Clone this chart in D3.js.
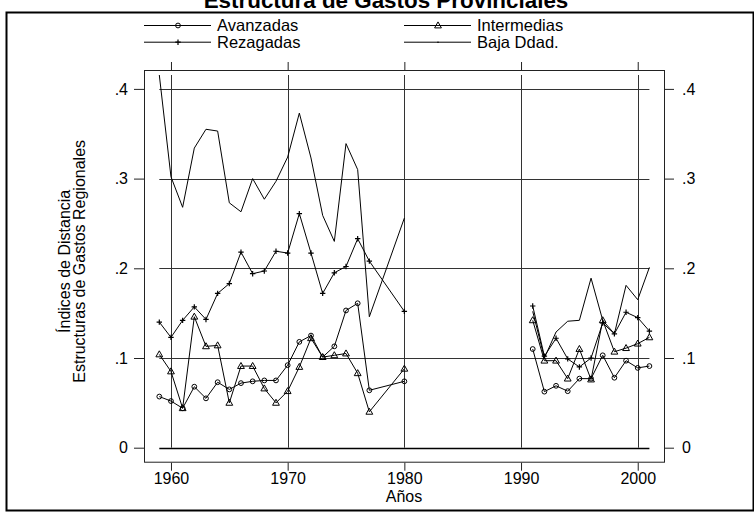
<!DOCTYPE html>
<html>
<head>
<meta charset="utf-8">
<script src="https://cdn.jsdelivr.net/npm/d3@7"></script>
<style>
  body { margin: 0; background: #fff; }
  svg { display: block; font-family: "Liberation Sans", Arial, sans-serif; }
</style>
</head>
<body>
<svg id="chart" width="754" height="512"></svg>
<script>
// values; two periods, 1978-79 and 1981-90 missing
const years1 = [1959, 1960, 1961, 1962, 1963, 1964, 1965, 1966, 1967, 1968,
  1969, 1970, 1971, 1972, 1973, 1974, 1975, 1976, 1977, 1980];
const years2 = [1991, 1992, 1993, 1994, 1995, 1996, 1997, 1998, 1999, 2000, 2001];

const avanzadas1 = [0.057, 0.052, 0.044, 0.068, 0.055, 0.073, 0.065, 0.072, 0.074, 0.075,
  0.075, 0.092, 0.118, 0.125, 0.101, 0.113, 0.153, 0.161, 0.064, 0.074];
const intermedias1 = [0.104, 0.085, 0.044, 0.146, 0.113, 0.114, 0.050, 0.091, 0.091, 0.066,
  0.050, 0.063, 0.090, 0.122, 0.101, 0.103, 0.105, 0.083, 0.040, 0.088];
const rezagadas1 = [0.140, 0.123, 0.142, 0.157, 0.143, 0.172, 0.183, 0.218, 0.194, 0.197,
  0.219, 0.217, 0.261, 0.217, 0.172, 0.195, 0.202, 0.233, 0.208, 0.152];
const baja1 = [0.4155, 0.302, 0.268, 0.334, 0.355, 0.353, 0.273, 0.263, 0.300, 0.277,
  0.297, 0.324, 0.373, 0.323, 0.259, 0.230, 0.339, 0.310, 0.146, 0.256];

const avanzadas2 = [0.110, 0.0625, 0.069, 0.063, 0.077, 0.077, 0.103, 0.078, 0.097, 0.089, 0.091];
const intermedias2 = [0.142, 0.097, 0.097, 0.077, 0.110, 0.076, 0.142, 0.107, 0.111, 0.116, 0.123];
const rezagadas2 = [0.158, 0.102, 0.122, 0.099, 0.090, 0.100, 0.139, 0.127, 0.151, 0.145, 0.130];
const baja2 = [0.152, 0.100, 0.129, 0.141, 0.142, 0.189, 0.142, 0.127, 0.181, 0.165, 0.201];

const seriesNames = ["Avanzadas", "Intermedias", "Rezagadas", "Baja Ddad."];
const seriesMarkers = ["circle", "triangle", "plus", "dot"];
const xTicks = [1960, 1970, 1980, 1990, 2000];
const yTicks = [0, 0.1, 0.2, 0.3, 0.4];

const svg = d3.select("#chart");

// layout (Stata-ish: plot region = data range, box with margin round it)
const box = { left: 144, right: 664, top: 70, bottom: 461.7 };
const x = d3.scaleLinear().domain([1959, 2001]).range([159.3, 649.4]);
const y = d3.scaleLinear().domain([0, 0.4155]).range([447.7, 75]);

// outer frame + title
svg.append("rect")
  .attr("x", 6.5).attr("y", 12.5).attr("width", 747).attr("height", 498)
  .attr("fill", "none").attr("stroke", "#000").attr("stroke-width", 2);
svg.append("text")
  .attr("x", 386).attr("y", 8)
  .attr("text-anchor", "middle")
  .style("font-size", "22.4px").style("font-weight", "bold")
  .text("Estructura de Gastos Provinciales");

// gridlines
const grid = svg.append("g").attr("stroke", "#333").attr("stroke-width", 1);
grid.selectAll(".hg").data(yTicks.filter(d => d > 0)).join("line")
  .attr("x1", x(1959)).attr("x2", x(2001))
  .attr("y1", d => Math.round(y(d)) + 0.5).attr("y2", d => Math.round(y(d)) + 0.5);
grid.selectAll(".vg").data(xTicks).join("line")
  .attr("x1", d => Math.round(x(d)) + 0.5).attr("x2", d => Math.round(x(d)) + 0.5)
  .attr("y1", y(0.4155)).attr("y2", y(0));
svg.append("line")
  .attr("x1", x(1959)).attr("x2", x(2001))
  .attr("y1", Math.round(y(0)) + 0.5).attr("y2", Math.round(y(0)) + 0.5)
  .attr("stroke", "#000").attr("stroke-width", 1.4);

// plot box
svg.append("rect")
  .attr("x", box.left + 0.5).attr("y", box.top + 0.5)
  .attr("width", box.right - box.left).attr("height", box.bottom - box.top)
  .attr("fill", "none").attr("stroke", "#222");

// axes
const yFmt = d => d === 0 ? "0" : d3.format(".1f")(d).replace(/^0/, "");
const styleAxis = g => {
  g.select(".domain").remove();
  g.selectAll(".tick line").attr("stroke", "#222");
  g.selectAll(".tick text").attr("fill", "#000").style("font-size", "16px")
    .style("font-family", "'Liberation Sans', Arial, sans-serif");
};
svg.append("g").attr("transform", `translate(${box.left},0)`)
  .call(d3.axisLeft(y).tickValues(yTicks).tickFormat(yFmt).tickSize(10).tickPadding(6))
  .call(styleAxis);
svg.append("g").attr("transform", `translate(${box.right + 1},0)`)
  .call(d3.axisRight(y).tickValues(yTicks).tickFormat(yFmt).tickSize(9).tickPadding(8))
  .call(styleAxis);
svg.append("g").attr("transform", `translate(0,${box.bottom + 1})`)
  .call(d3.axisBottom(x).tickValues(xTicks).tickFormat(d3.format("d")).tickSize(8).tickPadding(2))
  .call(styleAxis);
svg.append("g").attr("transform", `translate(0,${box.top})`)
  .call(d3.axisTop(x).tickValues(xTicks).tickFormat("").tickSize(8))
  .call(styleAxis);

// axis titles
svg.append("text")
  .attr("x", (box.left + box.right) / 2).attr("y", 502)
  .attr("text-anchor", "middle").style("font-size", "16px")
  .text("Años");
const ytitle = svg.append("text")
  .attr("transform", `translate(0,${(y(0) + y(0.4155)) / 2}) rotate(-90)`)
  .attr("text-anchor", "middle").style("font-size", "16px");
ytitle.append("tspan").attr("x", 0).attr("y", 70).text("Índices de Distancia");
ytitle.append("tspan").attr("x", 0).attr("y", 85).text("Estructuras de Gastos Regionales");

// markers
function drawMarker(sel, kind) {
  if (kind === "circle") {
    sel.append("circle").attr("r", 2.4).attr("fill", "none").attr("stroke", "#000");
  } else if (kind === "triangle") {
    sel.append("path").attr("d", "M0,-3.6L3.4,2.4L-3.4,2.4Z")
      .attr("fill", "none").attr("stroke", "#000");
  } else if (kind === "plus") {
    sel.append("path").attr("d", "M-2.7,0H2.7M0,-2.7V2.7")
      .attr("stroke", "#000").attr("stroke-width", 1.2);
  } else {
    sel.append("circle").attr("r", 0.8).attr("fill", "#000");
  }
}

const periods = [
  { years: years1, values: [avanzadas1, intermedias1, rezagadas1, baja1] },
  { years: years2, values: [avanzadas2, intermedias2, rezagadas2, baja2] }
];
const line = d3.line().x(d => x(d[0])).y(d => y(d[1]));

const plot = svg.append("g");
periods.forEach(p => {
  p.values.forEach((vals, si) => {
    const pts = p.years.map((yr, i) => [yr, vals[i]]);
    plot.append("path").attr("d", line(pts))
      .attr("fill", "none").attr("stroke", "#000").attr("stroke-width", 1);
    if (seriesMarkers[si] !== "dot") {
      plot.append("g").selectAll("g").data(pts).join("g")
        .attr("transform", d => `translate(${x(d[0])},${y(d[1])})`)
        .each(function() { drawMarker(d3.select(this), seriesMarkers[si]); });
    }
  });
});

// legend
const legendPos = [[144, 25], [404, 25], [144, 41.7], [404, 41.7]];
const legend = svg.append("g");
seriesNames.forEach((name, i) => {
  const [lx, ly] = legendPos[i];
  const item = legend.append("g").attr("transform", `translate(${lx},${ly})`);
  item.append("line").attr("x1", 0).attr("x2", 67).attr("y1", 0.5).attr("y2", 0.5)
    .attr("stroke", "#000");
  drawMarker(item.append("g").attr("transform", "translate(34,0.5)"), seriesMarkers[i]);
  item.append("text").attr("x", 73).attr("y", 6).style("font-size", "16.5px").text(name);
});
</script>
</body>
</html>
